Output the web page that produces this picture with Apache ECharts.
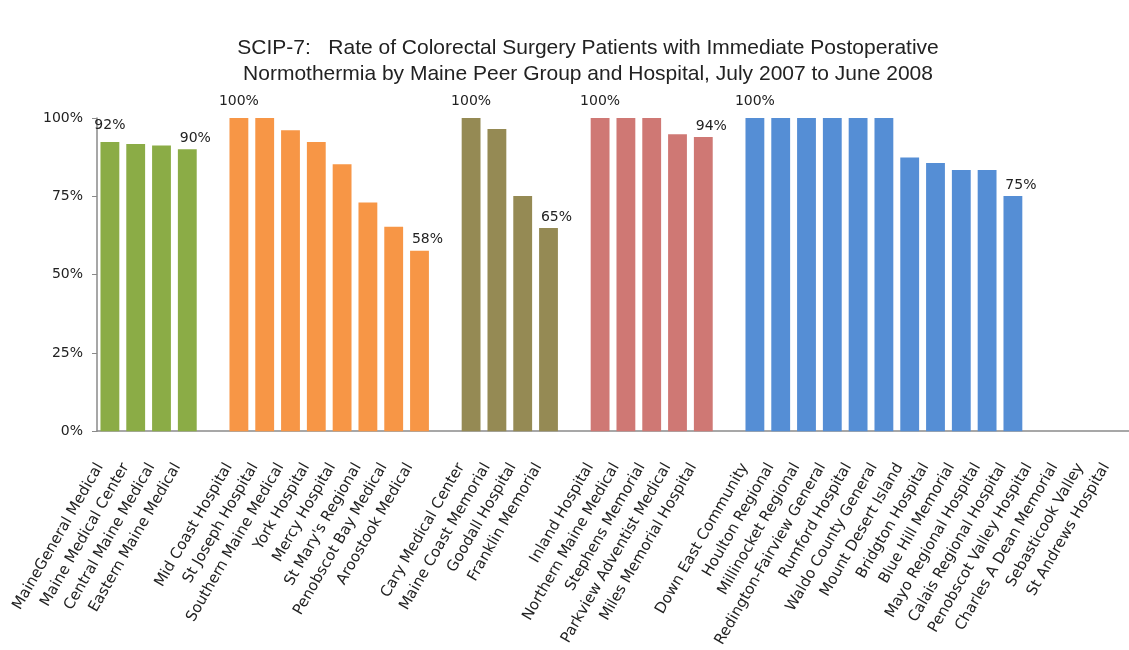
<!DOCTYPE html>
<html>
<head>
<meta charset="utf-8">
<script src="https://cdn.jsdelivr.net/npm/echarts@6/dist/echarts.min.js"></script>
<style>
  html, body { margin: 0; padding: 0; background: #fff; }
  #chart { width: 1129px; height: 650px; }
</style>
</head>
<body>
<div id="chart"></div>
<script>
// peer groups, in chart order
const greenNames = ['MaineGeneral Medical', 'Maine Medical Center', 'Central Maine Medical', 'Eastern Maine Medical']
const greenValues = [92.3, 91.7, 91.2, 90.0]

const orangeNames = ['Mid Coast Hospital', 'St Joseph Hospital', 'Southern Maine Medical', 'York Hospital', 'Mercy Hospital', "St Mary's Regional", 'Penobscot Bay Medical', 'Aroostook Medical']
const orangeValues = [100, 100, 96.1, 92.3, 85.2, 73.0, 65.3, 57.6]

const oliveNames = ['Cary Medical Center', 'Maine Coast Memorial', 'Goodall Hospital', 'Franklin Memorial']
const oliveValues = [100, 96.5, 75.1, 64.9]

const redNames = ['Inland Hospital', 'Northern Maine Medical', 'Stephens Memorial', 'Parkview Adventist Medical', 'Miles Memorial Hospital']
const redValues = [100, 100, 100, 94.8, 93.9]

const blueNames = ['Down East Community', 'Houlton Regional', 'Millinocket Regional', 'Redington-Fairview General', 'Rumford Hospital', 'Waldo County General', 'Mount Desert Island', 'Bridgton Hospital', 'Blue Hill Memorial', 'Mayo Regional Hospital', 'Calais Regional Hospital', 'Penobscot Valley Hospital', 'Charles A Dean Memorial', 'Sebasticook Valley', 'St Andrews Hospital']
const blueValues = [100, 100, 100, 100, 100, 100, 87.4, 85.6, 83.4, 83.4, 75.1, null, null, null, null]

const yTicks = [0, 25, 50, 75, 100]

const groups = [
  { names: greenNames, values: greenValues, color: '#8BAC46' },
  { names: orangeNames, values: orangeValues, color: '#F79646' },
  { names: oliveNames, values: oliveValues, color: '#958A54' },
  { names: redNames, values: redValues, color: '#CF7874' },
  { names: blueNames, values: blueValues, color: '#558ED5' },
]

const labelFont = 'DejaVu Sans'
const categories = []
const barData = []

groups.forEach((g, gi) => {
  if (gi > 0) {
    // empty slot between peer groups
    categories.push('')
    barData.push(null)
  }
  // only the first and last reported hospital of each group gets a label
  let first = -1
  let last = -1
  g.values.forEach((v, i) => {
    if (v != null) {
      if (first < 0) first = i
      last = i
    }
  })
  g.names.forEach((name, i) => {
    categories.push(name)
    const v = g.values[i]
    if (v == null) {
      barData.push(null)
      return
    }
    const item = { value: v, itemStyle: { color: g.color } }
    if (i === first) {
      item.label = { show: true, distance: 10 }
    } else if (i === last) {
      item.label = { show: true, distance: 4, offset: [8, 0] }
    }
    barData.push(item)
  })
})

const chart = echarts.init(document.getElementById('chart'))
chart.setOption({
  animation: false,
  title: {
    text: 'SCIP-7:   Rate of Colorectal Surgery Patients with Immediate Postoperative\nNormothermia by Maine Peer Group and Hospital, July 2007 to June 2008',
    left: 583,
    top: 30,
    textAlign: 'center',
    textStyle: {
      fontFamily: 'Liberation Sans',
      fontSize: 21,
      fontWeight: 'normal',
      color: '#222',
      lineHeight: 26,
    },
  },
  grid: {
    left: 97,
    right: -6,
    top: 118,
    bottom: 217,
    containLabel: false,
  },
  xAxis: {
    type: 'category',
    data: categories,
    axisLine: { lineStyle: { color: '#8a8a8a', width: 1.5 } },
    axisTick: { show: false },
    axisLabel: {
      interval: 0,
      rotate: 60,
      margin: 16,
      padding: [0, 20, 0, 0],
      fontFamily: labelFont,
      fontSize: 15,
      color: '#222',
    },
  },
  yAxis: {
    type: 'value',
    min: yTicks[0],
    max: yTicks[yTicks.length - 1],
    interval: 25,
    splitLine: { show: false },
    axisLine: { show: true, lineStyle: { color: '#8a8a8a', width: 1.5 } },
    axisTick: { show: true, length: 5, lineStyle: { color: '#8a8a8a' } },
    axisLabel: {
      formatter: '{value}%',
      margin: 14,
      fontFamily: labelFont,
      fontSize: 14,
      color: '#222',
    },
  },
  series: [
    {
      type: 'bar',
      data: barData,
      barWidth: '73%',
      label: {
        show: false,
        position: 'top',
        fontFamily: labelFont,
        fontSize: 14,
        color: '#222',
        formatter: (p) => Math.round(p.value) + '%',
      },
    },
  ],
})
</script>
</body>
</html>
